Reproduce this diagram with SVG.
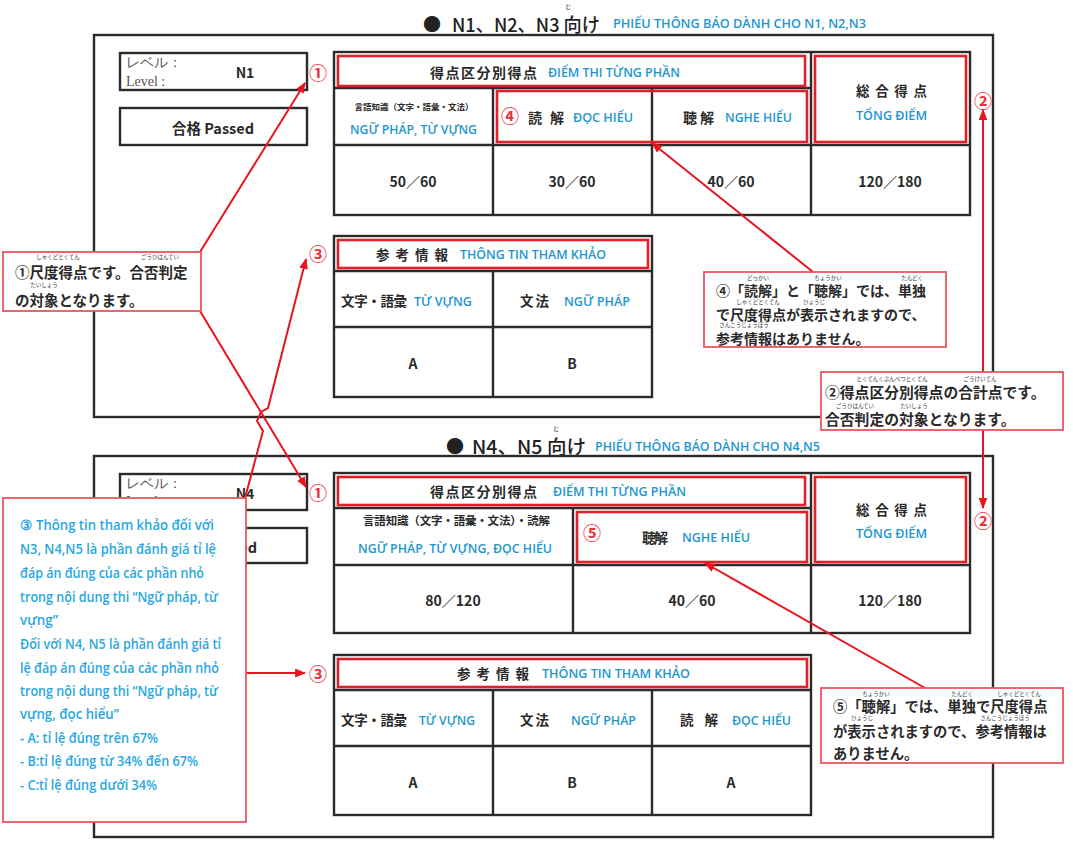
<svg xmlns="http://www.w3.org/2000/svg" width="1073" height="845" viewBox="0 0 1073 845">
<style>
.bg{fill:#fff}
.box{fill:#fff;stroke:#2b2b2b;stroke-width:2.4}
.fr{fill:none;stroke:#2b2b2b;stroke-width:2.4}
.ln{stroke:#2b2b2b;stroke-width:2.4}
.rb{fill:none;stroke:#e3202a;stroke-width:2.6}
.co{fill:#fff;stroke:#ea5560;stroke-width:1.8}
.jp{font-family:"Noto Sans CJK JP","Noto Sans CJK SC",sans-serif;font-weight:700;fill:#2a2a2a}
.jt{font-family:"Noto Sans CJK JP","Noto Sans CJK SC",sans-serif;font-weight:500;fill:#222}
.bl{font-family:"Open Sans","Noto Sans",sans-serif;font-weight:600;fill:#1d96d0}
.vn{font-family:"Open Sans","Noto Sans",sans-serif;font-weight:600;fill:#29a7e1;font-size:13.5px}
.num{font-family:"Noto Sans CJK JP","Noto Sans CJK SC",sans-serif;font-weight:700;fill:#e8333b;font-size:18px;text-anchor:middle;dominant-baseline:central}
.fu{font-family:"Noto Sans CJK JP","Noto Sans CJK SC",sans-serif;font-size:5.5px;fill:#333;text-anchor:middle}
.lv{font-family:"Liberation Serif",serif;fill:#555;font-size:14px}
.c{text-anchor:middle;dominant-baseline:central}
.m{dominant-baseline:central}
.conn{stroke:#e8141e;stroke-width:2;fill:none}
</style>
<defs>
<marker id="ah" viewBox="0 0 10 8" refX="9" refY="4" markerWidth="11" markerHeight="9" markerUnits="userSpaceOnUse" orient="auto-start-reverse">
<path d="M0,0 L10,4 L0,8 z" fill="#e8141e"/>
</marker>
</defs>
<rect class="bg" x="0" y="0" width="1073" height="845"/>

<!-- ===== TOP SECTION ===== -->
<g id="title-top">
<text class="jt" x="432" y="23" font-size="18" text-anchor="middle" dominant-baseline="central">●</text>
<text class="jt m" x="452" y="23" font-size="19" textLength="148" lengthAdjust="spacingAndGlyphs">N1、N2、N3 向け</text>
<text class="fu" x="568" y="9" font-size="8">む</text>
<text class="bl" x="613" y="23" font-size="13" dominant-baseline="central" textLength="253" lengthAdjust="spacingAndGlyphs">PHIẾU THÔNG BÁO DÀNH CHO N1, N2,N3</text>
</g>
<g id="frame-top"><rect class="fr" x="94" y="35" width="899" height="382"/></g>
<g id="level-top">
<rect class="box" x="120" y="53" width="187" height="37"/>
<text class="lv m" x="126" y="62">レベル：</text>
<text class="lv m" x="126" y="81">Level  :</text>
<text class="jp c" x="245" y="72" font-size="14">N1</text>
</g>
<g id="passed-top">
<rect class="box" x="120" y="108" width="187" height="37"/>
<text class="jp c" x="213" y="127" font-size="14.5">合格  Passed</text>
</g>
<g id="score-table-top">
<rect class="box" x="334" y="52" width="636" height="163"/>
<line class="ln" x1="334" y1="88" x2="811" y2="88"/>
<line class="ln" x1="334" y1="145" x2="970" y2="145"/>
<line class="ln" x1="811" y1="52" x2="811" y2="215"/>
<line class="ln" x1="493" y1="88" x2="493" y2="215"/>
<line class="ln" x1="652" y1="88" x2="652" y2="215"/>
<rect class="rb" x="338" y="56" width="467" height="30"/>
<rect class="rb" x="497" y="91" width="310" height="51"/>
<rect class="rb" x="815" y="56" width="151" height="86"/>
<text class="jp m" x="430" y="72" font-size="14" textLength="107" lengthAdjust="spacing">得点区分別得点</text>
<text class="bl m" x="548" y="72" font-size="13" textLength="132" lengthAdjust="spacingAndGlyphs">ĐIỂM THI TỪNG PHẦN</text>
<text class="jp m" x="856" y="90" font-size="13.5" textLength="71" lengthAdjust="spacing">総合得点</text>
<text class="bl m" x="856" y="115" font-size="13" textLength="71" lengthAdjust="spacingAndGlyphs">TỔNG ĐIỂM</text>
<text class="jp c" x="414" y="106" font-size="8.5">言語知識（文字・語彙・文法）</text>
<text class="bl m" x="350" y="129" font-size="13" textLength="127" lengthAdjust="spacingAndGlyphs">NGỮ PHÁP, TỪ VỰNG</text>
<text class="num" x="510" y="115">④</text>
<text class="jp m" x="528" y="117" font-size="14" textLength="36" lengthAdjust="spacing">読解</text>
<text class="bl m" x="573" y="117" font-size="13" textLength="60" lengthAdjust="spacingAndGlyphs">ĐỌC HIỂU</text>
<text class="jp m" x="683" y="117" font-size="14" textLength="31" lengthAdjust="spacing">聴解</text>
<text class="bl m" x="725" y="117" font-size="13" textLength="67" lengthAdjust="spacingAndGlyphs">NGHE HIỂU</text>
<text class="jp c" x="413" y="181" font-size="14">50／60</text>
<text class="jp c" x="572" y="181" font-size="14">30／60</text>
<text class="jp c" x="731" y="181" font-size="14">40／60</text>
<text class="jp c" x="890" y="181" font-size="14">120／180</text>
</g>
<g id="ref-table-top">
<rect class="box" x="334" y="236" width="318" height="161"/>
<line class="ln" x1="334" y1="271" x2="652" y2="271"/>
<line class="ln" x1="334" y1="327" x2="652" y2="327"/>
<line class="ln" x1="493" y1="271" x2="493" y2="397"/>
<rect class="rb" x="338" y="240" width="310" height="28"/>
<text class="jp m" x="376" y="254" font-size="13.5" textLength="72" lengthAdjust="spacing">参考情報</text>
<text class="bl m" x="460" y="254" font-size="13" textLength="146" lengthAdjust="spacingAndGlyphs">THÔNG TIN THAM KHẢO</text>
<text class="jp m" x="341" y="300" font-size="13.5" textLength="66" lengthAdjust="spacing">文字・語彙</text>
<text class="bl m" x="414" y="301" font-size="13" textLength="58" lengthAdjust="spacingAndGlyphs">TỪ VỰNG</text>
<text class="jp m" x="520" y="300" font-size="13.5" textLength="29" lengthAdjust="spacing">文法</text>
<text class="bl m" x="564" y="301" font-size="13" textLength="66" lengthAdjust="spacingAndGlyphs">NGỮ PHÁP</text>
<text class="jp c" x="413" y="363" font-size="14">A</text>
<text class="jp c" x="572" y="363" font-size="14">B</text>
</g>
<g id="mark-top">
<text class="num" x="318" y="72">①</text>
<text class="num" x="983" y="100">②</text>
<text class="num" x="318" y="253">③</text>
</g>

<!-- ===== BOTTOM SECTION ===== -->
<g id="title-bottom">
<text class="jt" x="455" y="445" font-size="18" text-anchor="middle" dominant-baseline="central">●</text>
<text class="jt m" x="472" y="445" font-size="19" textLength="114" lengthAdjust="spacingAndGlyphs">N4、N5 向け</text>
<text class="fu" x="556" y="431" font-size="8">む</text>
<text class="bl" x="595" y="446" font-size="13" dominant-baseline="central" textLength="225" lengthAdjust="spacingAndGlyphs">PHIẾU THÔNG BÁO DÀNH CHO N4,N5</text>
</g>
<g id="frame-bottom"><rect class="fr" x="94" y="456" width="899" height="381"/></g>
<g id="level-bottom">
<rect class="box" x="120" y="474" width="187" height="36"/>
<text class="lv m" x="126" y="483">レベル：</text>
<text class="lv m" x="126" y="501">Level  :</text>
<text class="jp c" x="245" y="493" font-size="14">N4</text>
</g>
<g id="passed-bottom">
<rect class="box" x="120" y="528" width="187" height="35"/>
<text class="jp c" x="216" y="546" font-size="14.5">合格  Passed</text>
</g>
<g id="score-table-bottom">
<rect class="box" x="334" y="473" width="636" height="160"/>
<line class="ln" x1="334" y1="508" x2="811" y2="508"/>
<line class="ln" x1="334" y1="565" x2="970" y2="565"/>
<line class="ln" x1="811" y1="473" x2="811" y2="633"/>
<line class="ln" x1="573" y1="508" x2="573" y2="633"/>
<rect class="rb" x="338" y="477" width="467" height="28"/>
<rect class="rb" x="577" y="512" width="230" height="50"/>
<rect class="rb" x="815" y="477" width="151" height="85"/>
<text class="jp m" x="430" y="491" font-size="14" textLength="107" lengthAdjust="spacing">得点区分別得点</text>
<text class="bl m" x="553" y="491" font-size="13" textLength="133" lengthAdjust="spacingAndGlyphs">ĐIỂM THI TỪNG PHẦN</text>
<text class="jp m" x="856" y="509" font-size="13.5" textLength="71" lengthAdjust="spacing">総合得点</text>
<text class="bl m" x="856" y="533" font-size="13" textLength="71" lengthAdjust="spacingAndGlyphs">TỔNG ĐIỂM</text>
<text class="jp m" x="363" y="520" font-size="11.5" textLength="187" lengthAdjust="spacing">言語知識（文字・語彙・文法）・読解</text>
<text class="bl m" x="358" y="548" font-size="13" textLength="194" lengthAdjust="spacingAndGlyphs">NGỮ PHÁP, TỪ VỰNG, ĐỌC HIỂU</text>
<text class="num" x="592" y="532">⑤</text>
<text class="jp m" x="642" y="537" font-size="14" textLength="26" lengthAdjust="spacing">聴解</text>
<text class="bl m" x="682" y="537" font-size="13" textLength="68" lengthAdjust="spacingAndGlyphs">NGHE HIỂU</text>
<text class="jp c" x="453" y="600" font-size="14">80／120</text>
<text class="jp c" x="692" y="600" font-size="14">40／60</text>
<text class="jp c" x="890" y="600" font-size="14">120／180</text>
</g>
<g id="ref-table-bottom">
<rect class="box" x="334" y="655" width="477" height="160"/>
<line class="ln" x1="334" y1="690" x2="811" y2="690"/>
<line class="ln" x1="334" y1="746" x2="811" y2="746"/>
<line class="ln" x1="493" y1="690" x2="493" y2="815"/>
<line class="ln" x1="652" y1="690" x2="652" y2="815"/>
<rect class="rb" x="338" y="659" width="469" height="28"/>
<text class="jp m" x="457" y="673" font-size="13.5" textLength="72" lengthAdjust="spacing">参考情報</text>
<text class="bl m" x="542" y="673" font-size="13" textLength="148" lengthAdjust="spacingAndGlyphs">THÔNG TIN THAM KHẢO</text>
<text class="jp m" x="341" y="719" font-size="13.5" textLength="66" lengthAdjust="spacing">文字・語彙</text>
<text class="bl m" x="419" y="720" font-size="13" textLength="56" lengthAdjust="spacingAndGlyphs">TỪ VỰNG</text>
<text class="jp m" x="520" y="719" font-size="13.5" textLength="29" lengthAdjust="spacing">文法</text>
<text class="bl m" x="571" y="720" font-size="13" textLength="65" lengthAdjust="spacingAndGlyphs">NGỮ PHÁP</text>
<text class="jp m" x="680" y="719" font-size="13.5" textLength="38" lengthAdjust="spacing">読解</text>
<text class="bl m" x="732" y="720" font-size="13" textLength="59" lengthAdjust="spacingAndGlyphs">ĐỌC HIỂU</text>
<text class="jp c" x="413" y="782" font-size="14">A</text>
<text class="jp c" x="572" y="782" font-size="14">B</text>
<text class="jp c" x="731" y="782" font-size="14">A</text>
</g>
<g id="mark-bottom">
<text class="num" x="318" y="492">①</text>
<text class="num" x="983" y="520">②</text>
<text class="num" x="318" y="673">③</text>
</g>

<!-- ===== CONNECTORS ===== -->
<g id="connectors">
<path class="conn" d="M200,252 L305,83" marker-end="url(#ah)"/>
<path class="conn" d="M200,311 L306,487" marker-end="url(#ah)"/>
<path class="conn" d="M245,498 L263,431 L257,421 L261,412 L268,408 L306,259" marker-end="url(#ah)"/>
<path class="conn" d="M246,673 L305,673" marker-end="url(#ah)"/>
<path class="conn" d="M813,272 L652,143" marker-end="url(#ah)"/>
<path class="conn" d="M925,688 L705,563" marker-end="url(#ah)"/>
<path class="conn" d="M983,110 L983,508" marker-start="url(#ah)" marker-end="url(#ah)"/>
</g>

<!-- ===== CALLOUTS ===== -->
<g id="callout-1">
<rect class="co" x="3" y="252" width="198" height="59"/>
<text class="jp" x="15" y="278" font-size="14.5">①尺度得点です。合否判定</text>
<text class="jp" x="15" y="306" font-size="14.5">の対象となります。</text>
<text class="fu" x="58" y="259">しゃくどとくてん</text>
<text class="fu" x="160" y="259">ごうひはんてい</text>
<text class="fu" x="44" y="287">たいしょう</text>
</g>
<g id="callout-4">
<rect class="co" x="704" y="272" width="242" height="75"/>
<text class="jp" x="716" y="296" font-size="14">④「読解」と「聴解」では、単独</text>
<text class="jp" x="716" y="320" font-size="14">で尺度得点が表示されますので、</text>
<text class="jp" x="716" y="344" font-size="14">参考情報はありません。</text>
<text class="fu" x="758" y="280">どっかい</text>
<text class="fu" x="828" y="280">ちょうかい</text>
<text class="fu" x="912" y="280">たんどく</text>
<text class="fu" x="758" y="304">しゃくどとくてん</text>
<text class="fu" x="814" y="304">ひょうじ</text>
<text class="fu" x="744" y="327">さんこうじょうほう</text>
</g>
<g id="callout-2">
<rect class="co" x="821" y="372" width="242" height="58"/>
<text class="jp" x="825" y="398" font-size="14.8">②得点区分別得点の合計点です。</text>
<text class="jp" x="825" y="425" font-size="14.8">合否判定の対象となります。</text>
<text class="fu" x="892" y="381">とくてんくぶんべつとくてん</text>
<text class="fu" x="980" y="381">ごうけいてん</text>
<text class="fu" x="855" y="408">ごうひはんてい</text>
<text class="fu" x="914" y="408">たいしょう</text>
</g>
<g id="callout-5">
<rect class="co" x="821" y="688" width="242" height="75"/>
<text class="jp" x="833" y="712" font-size="14.3">⑤「聴解」では、単独で尺度得点</text>
<text class="jp" x="833" y="737" font-size="14.3">が表示されますので、参考情報は</text>
<text class="jp" x="833" y="759" font-size="14.3">ありません。</text>
<text class="fu" x="876" y="696">ちょうかい</text>
<text class="fu" x="962" y="696">たんどく</text>
<text class="fu" x="1019" y="696">しゃくどとくてん</text>
<text class="fu" x="862" y="720">ひょうじ</text>
<text class="fu" x="1005" y="720">さんこうじょうほう</text>
</g>
<g id="callout-3">
<rect class="co" x="3" y="498" width="243" height="324"/>
<text class="vn m" x="20" y="525" textLength="194" lengthAdjust="spacingAndGlyphs">③  Thông tin tham khảo đối với</text>
<text class="vn m" x="20" y="549" textLength="196" lengthAdjust="spacingAndGlyphs">N3, N4,N5 là phần  đánh  giá tỉ lệ</text>
<text class="vn m" x="20" y="573" textLength="184" lengthAdjust="spacingAndGlyphs">đáp án đúng của các phần nhỏ</text>
<text class="vn m" x="20" y="597" textLength="198" lengthAdjust="spacingAndGlyphs">trong nội dung thi “Ngữ pháp, từ</text>
<text class="vn m" x="20" y="620" textLength="38" lengthAdjust="spacingAndGlyphs">vựng”</text>
<text class="vn m" x="20" y="644" textLength="201" lengthAdjust="spacingAndGlyphs">Đối với N4, N5 là phần đánh giá tỉ</text>
<text class="vn m" x="20" y="668" textLength="199" lengthAdjust="spacingAndGlyphs">lệ đáp án đúng của các phần nhỏ</text>
<text class="vn m" x="20" y="691" textLength="198" lengthAdjust="spacingAndGlyphs">trong nội dung thi “Ngữ pháp, từ</text>
<text class="vn m" x="20" y="714" textLength="99" lengthAdjust="spacingAndGlyphs">vựng, đọc hiểu”</text>
<text class="vn m" x="20" y="738" textLength="138" lengthAdjust="spacingAndGlyphs">- A: tỉ lệ đúng trên 67%</text>
<text class="vn m" x="20" y="761" textLength="178" lengthAdjust="spacingAndGlyphs">- B:tỉ lệ đúng từ 34% đến 67%</text>
<text class="vn m" x="20" y="785" textLength="137" lengthAdjust="spacingAndGlyphs">- C:tỉ lệ đúng dưới 34%</text>
</g>
</svg>
